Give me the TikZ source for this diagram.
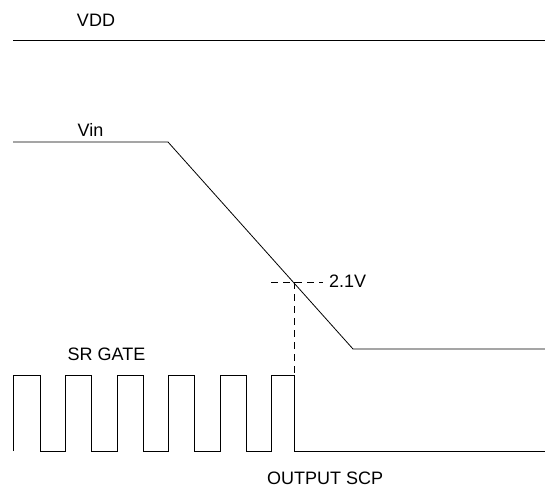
\documentclass[tikz,border=0pt]{standalone}
\usepackage{fontspec}
\setmainfont{Liberation Sans}
\usetikzlibrary{positioning}

\tikzset{
	signal/.style={line width=0.8pt, black},
	guide/.style={line width=0.8pt, black, dash pattern=on 7pt off 5pt},
	lbl/.style={inner sep=0pt, font=\fontsize{18}{20}\selectfont}
}

\begin{document}
\begin{tikzpicture}[x=1pt, y=-1pt]
	\useasboundingbox (0,0) rectangle (545,487);

	% labels
	\node[lbl] (vdd) at (96, 20)            {VDD};
	\node[lbl] (vin) at (90.5, 130)         {Vin};
	\node[lbl, anchor=west] (thr) at (329, 281)  {2.1V};
	\node[lbl] (gate) at (106.5, 354)       {SR GATE};
	\node[lbl, anchor=west] (scp) at (267, 478) {OUTPUT SCP};

	% VDD rail
	\draw[signal] (13, 40) -- (545, 40);

	% Vin ramp
	\coordinate (vinhi) at (168, 142);
	\coordinate (vinlo) at (353, 349);
	\draw[signal] (13, 142) -- (vinhi) -- (vinlo) -- (545, 349);

	% threshold crossing
	\coordinate (cross) at (294, 282);
	\coordinate (gatelo) at (294, 451);
	\draw[guide] (271, 282) -- (323, 282);
	\draw[guide] (cross) -- (gatelo);

	% SR gate pulses
	\draw[signal] (13, 451) -- (13, 375) -- (40, 375) -- (40, 451)
		-- (65, 451) -- (65, 375) -- (91, 375) -- (91, 451)
		-- (117, 451) -- (117, 375) -- (143, 375) -- (143, 451)
		-- (168, 451) -- (168, 375) -- (194, 375) -- (194, 451)
		-- (220, 451) -- (220, 375) -- (246, 375) -- (246, 451)
		-- (271, 451) -- (271, 375) -- (294, 375) -- (gatelo) -- (545, 451);

\end{tikzpicture}
\end{document}
